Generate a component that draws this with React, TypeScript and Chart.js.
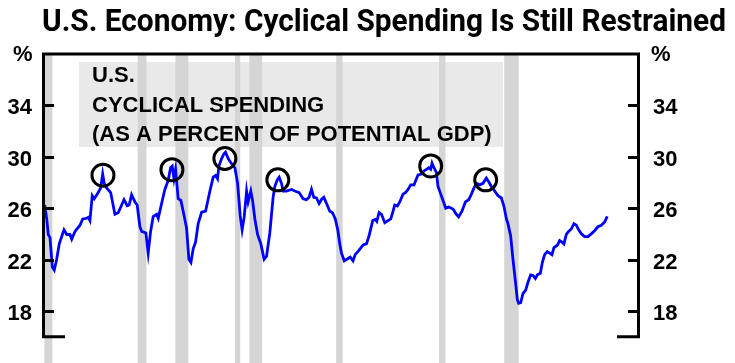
import React, { useEffect, useRef } from "react";
import { Chart, registerables } from "chart.js";

Chart.register(...registerables);

const TITLE = "U.S. Economy: Cyclical Spending Is Still Restrained";
const BOX_LINES = ["U.S.", "CYCLICAL SPENDING", "(AS A PERCENT OF POTENTIAL GDP)"];
const UNIT = "%";
const yTicks = [18, 22, 26, 30, 34];

const years = [1960.28,1960.49,1960.65,1960.83,1961.07,1961.27,1961.52,1961.79,1962.28,1962.56,1962.90,1963.08,1963.42,1963.94,1964.22,1964.63,1964.80,1964.97,1965.21,1965.42,1965.83,1966.08,1966.29,1966.45,1966.70,1967.12,1967.56,1967.90,1968.26,1968.50,1968.84,1969.04,1969.29,1969.64,1969.87,1970.15,1970.33,1970.77,1971.01,1971.26,1971.53,1971.88,1972.05,1972.40,1972.74,1973.09,1973.33,1973.50,1973.68,1973.85,1974.12,1974.40,1974.74,1974.99,1975.23,1975.44,1975.68,1975.92,1976.19,1976.55,1976.96,1977.41,1977.75,1978.00,1978.20,1978.34,1978.62,1978.86,1979.03,1979.30,1979.72,1980.00,1980.28,1980.55,1980.75,1980.96,1981.21,1981.37,1981.65,1981.83,1982.07,1982.35,1982.69,1983.03,1983.28,1983.62,1983.96,1984.14,1984.38,1984.59,1984.83,1985.00,1985.35,1985.87,1986.21,1986.66,1987.07,1987.42,1987.69,1987.94,1988.18,1988.46,1988.73,1989.01,1989.22,1989.50,1989.84,1990.12,1990.41,1990.67,1990.87,1991.05,1991.34,1991.65,1991.96,1992.25,1992.48,1992.84,1993.29,1993.64,1993.91,1994.29,1994.55,1994.71,1994.95,1995.20,1995.54,1995.88,1996.16,1996.40,1996.57,1996.85,1997.09,1997.43,1997.68,1997.95,1998.23,1998.57,1998.82,1998.99,1999.34,1999.61,1999.86,2000.10,2000.30,2000.44,2000.64,2000.89,2001.06,2001.34,2001.58,2001.86,2002.17,2002.61,2002.96,2003.20,2003.54,2003.90,2004.24,2004.52,2004.79,2005.04,2005.38,2005.72,2006.07,2006.31,2006.59,2006.93,2007.28,2007.63,2007.90,2008.15,2008.31,2008.59,2008.83,2009.08,2009.28,2009.42,2009.63,2009.87,2010.14,2010.38,2010.66,2010.90,2011.15,2011.36,2011.67,2011.87,2012.11,2012.39,2012.63,2012.87,2013.08,2013.43,2013.67,2013.91,2014.11,2014.36,2014.60,2014.88,2015.15,2015.40,2015.64,2015.92,2016.26,2016.60,2016.95,2017.29,2017.64,2017.99,2018.33,2018.61];

const values = [26.25,25.17,23.96,23.72,21.42,21.18,22.03,23.23,24.32,23.96,23.96,23.59,24.20,24.68,25.17,25.22,25.29,25.04,26.98,26.74,27.22,27.58,28.66,27.94,27.58,27.22,25.53,25.65,26.25,26.66,26.20,26.25,27.05,26.49,26.25,24.56,24.20,24.08,22.51,24.20,25.36,25.53,25.22,26.37,27.46,28.19,29.15,29.27,28.30,29.03,26.74,26.61,25.40,24.44,22.03,21.78,22.87,23.36,24.80,25.69,25.77,27.34,28.42,28.55,28.30,29.27,29.87,30.23,30.36,29.87,29.39,29.15,27.94,25.40,24.32,25.29,27.34,26.49,27.34,26.61,25.17,23.96,23.23,22.03,22.27,24.08,26.85,27.70,28.19,28.42,27.94,27.34,27.34,27.46,27.34,27.22,26.74,26.66,26.85,27.48,26.85,26.80,26.37,26.72,26.85,26.37,25.77,25.65,25.17,24.30,23.23,22.51,21.91,22.05,22.20,21.91,22.41,22.70,23.14,23.23,23.86,25.04,25.13,24.98,25.67,25.53,24.88,25.04,25.17,25.77,26.25,26.18,26.49,27.10,27.22,27.46,27.82,27.82,28.30,28.59,28.66,28.91,29.03,29.15,29.03,29.51,29.15,28.79,27.70,27.10,26.61,26.01,26.09,25.94,25.53,25.33,25.77,26.49,26.66,27.10,27.58,27.94,27.82,27.94,28.35,28.06,27.70,27.34,26.98,26.80,26.13,25.17,24.80,23.84,22.03,20.34,18.89,18.60,18.65,19.37,19.61,20.22,20.82,20.77,20.53,20.82,20.94,21.78,22.39,22.63,22.51,22.39,22.94,23.12,23.48,23.36,23.23,23.96,24.20,24.39,24.80,24.68,24.32,24.01,23.79,23.79,24.01,24.25,24.56,24.68,24.93,25.36];

const peakYears = [1966.32, 1973.47, 1978.96, 1984.45, 2000.30, 2006.00];
const peakValues = [28.57, 29.0, 29.87, 28.21, 29.29, 28.21];

const recessionStarts = [1960.25, 1969.92, 1973.83, 1980.0, 1981.5, 1990.5, 2001.17, 2007.92];
const recessionEnds = [1961.08, 1970.83, 1975.17, 1980.55, 1982.83, 1991.17, 2001.83, 2009.42];

const X_MIN = 1960;
const X_MAX = 2022;
const Y_MIN = 16;
const Y_MAX = 38;

const LABEL_FONT = 'bold 22px Arial, "Liberation Sans", sans-serif';
const TITLE_FONT = 'bold 31px Roboto, "Noto Sans", sans-serif';
const TITLE_WIDTH = 684;

const decor = {
  id: "decor",
  beforeDatasetsDraw(chart: any) {
    const { ctx, chartArea: ca, scales } = chart;
    const x = scales.x;
    ctx.save();
    // annotation box
    ctx.fillStyle = "#e9e9e9";
    ctx.fillRect(79, 62, 424, 85);
    // recession bars
    ctx.fillStyle = "#d5d5d5";
    for (let i = 0; i < recessionStarts.length; i++) {
      const a = x.getPixelForValue(recessionStarts[i]);
      const b = x.getPixelForValue(recessionEnds[i]);
      ctx.fillRect(a, ca.top, Math.max(1, b - a), chart.height - ca.top);
    }
    // box text
    ctx.fillStyle = "#000";
    ctx.font = LABEL_FONT;
    ctx.textAlign = "left";
    ctx.textBaseline = "alphabetic";
    const baselines = [82, 112, 141];
    BOX_LINES.forEach((t, i) => ctx.fillText(t, 92, baselines[i]));
    ctx.restore();
  },
  afterDraw(chart: any) {
    const { ctx, chartArea: ca, scales } = chart;
    const y = scales.y;
    ctx.save();
    ctx.strokeStyle = "#000";
    ctx.lineWidth = 3;
    ctx.lineCap = "butt";
    ctx.beginPath();
    ctx.moveTo(ca.left + 1.5, ca.top - 1.5);
    ctx.lineTo(ca.left + 1.5, ca.bottom + 1.5);
    ctx.moveTo(ca.right - 1.5, ca.top - 1.5);
    ctx.lineTo(ca.right - 1.5, ca.bottom + 1.5);
    ctx.moveTo(ca.left, ca.top);
    ctx.lineTo(ca.right, ca.top);
    ctx.moveTo(ca.left, ca.bottom);
    ctx.lineTo(ca.left + 23, ca.bottom);
    ctx.moveTo(ca.right - 23, ca.bottom);
    ctx.lineTo(ca.right, ca.bottom);
    yTicks.forEach((v) => {
      const py = Math.round(y.getPixelForValue(v)) + 0.5;
      ctx.moveTo(ca.left, py);
      ctx.lineTo(ca.left + 12, py);
      ctx.moveTo(ca.right - 12, py);
      ctx.lineTo(ca.right, py);
    });
    ctx.stroke();
    ctx.fillStyle = "#000";
    ctx.font = LABEL_FONT;
    ctx.textAlign = "left";
    ctx.textBaseline = "alphabetic";
    ctx.fillText(UNIT, 13, 61);
    ctx.fillText(UNIT, 651, 61);
    // title, condensed horizontally to the reference width
    ctx.font = TITLE_FONT;
    const w = ctx.measureText(TITLE).width;
    const sx = w > 0 ? TITLE_WIDTH / w : 1;
    ctx.translate(42, 31);
    ctx.scale(sx, 1);
    ctx.fillText(TITLE, 0, 0);
    ctx.restore();
  },
};

export default function App() {
  const ref = useRef<HTMLCanvasElement>(null);
  useEffect(() => {
    const n = Math.min(years.length, values.length);
    const lineData = [];
    for (let i = 0; i < n; i++) lineData.push({ x: years[i], y: values[i] });
    const peakData = peakYears.map((yr, i) => ({ x: yr, y: peakValues[i] }));
    const tickFont = { family: 'Arial, "Liberation Sans", sans-serif', size: 22, weight: "bold" as const };
    const chart = new Chart(ref.current!, {
      type: "line",
      data: {
        datasets: [
          {
            type: "scatter",
            data: peakData,
            showLine: false,
            pointRadius: 11,
            pointHoverRadius: 11,
            pointBorderWidth: 3,
            borderColor: "#000",
            backgroundColor: "rgba(0,0,0,0)",
            order: 0,
          } as any,
          {
            type: "line",
            data: lineData,
            borderColor: "#0000ff",
            borderWidth: 2.8,
            pointRadius: 0,
            tension: 0,
            fill: false,
            order: 1,
          },
        ],
      },
      options: {
        animation: false,
        responsive: false,
        events: [],
        layout: { padding: { top: 54, bottom: 6, left: 0, right: 0 } },
        plugins: { legend: { display: false }, tooltip: { enabled: false }, title: { display: false } },
        scales: {
          x: { type: "linear", min: X_MIN, max: X_MAX, display: false },
          y: {
            position: "left",
            min: Y_MIN,
            max: Y_MAX,
            afterFit: (s: any) => { s.width = 42; },
            afterBuildTicks: (s: any) => { s.ticks = yTicks.map((v) => ({ value: v })); },
            grid: { display: false, drawTicks: false },
            border: { display: false },
            ticks: { color: "#000", font: tickFont, padding: 10, labelOffset: 3 },
          },
          y2: {
            position: "right",
            min: Y_MIN,
            max: Y_MAX,
            afterFit: (s: any) => { s.width = 95; },
            afterBuildTicks: (s: any) => { s.ticks = yTicks.map((v) => ({ value: v })); },
            grid: { display: false, drawTicks: false },
            border: { display: false },
            ticks: { color: "#000", font: tickFont, padding: 13, labelOffset: 3 },
          },
        },
      },
      plugins: [decor],
    });
    return () => chart.destroy();
  }, []);
  return (
    <div style={{ position: "absolute", left: 0, top: 0, width: 735, height: 363, background: "#fff" }}>
      <canvas ref={ref} width={735} height={363} style={{ display: "block", width: 735, height: 363 }} />
    </div>
  );
}
